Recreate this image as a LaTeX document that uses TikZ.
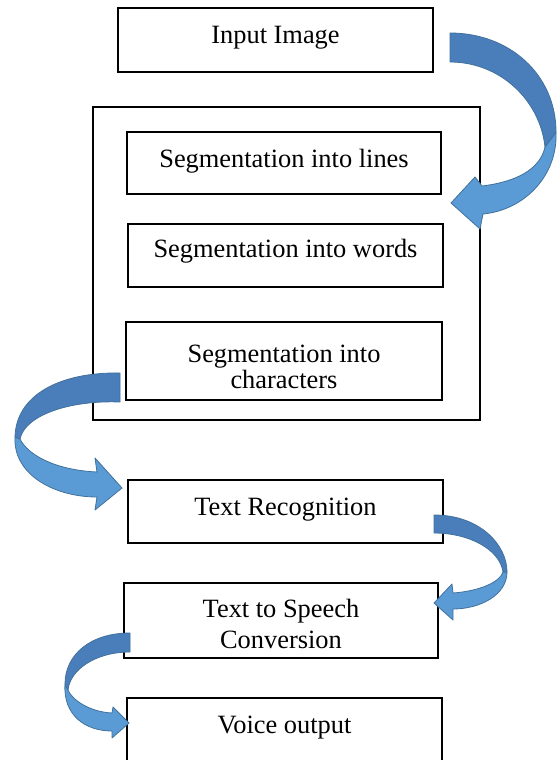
\documentclass[tikz,border=0pt]{standalone}
\usepackage{fontspec}
\setmainfont{Liberation Serif}
\definecolor{arrdark}{HTML}{4A7EBB}
\definecolor{arrlight}{HTML}{5B9BD5}
\definecolor{arredge}{HTML}{41719C}
\begin{document}
\begin{tikzpicture}[x=0.5pt,y=-0.5pt,
  box/.style={draw=black, line width=0.9pt, inner sep=0pt},
  lbl/.style={font=\fontsize{13.2}{15}\selectfont, inner sep=0pt, align=center},
  darkpart/.style={fill=arrdark, draw=arredge, line width=0.4pt, line join=round},
  lightpart/.style={fill=arrlight, draw=arredge, line width=0.4pt, line join=round}]
\clip (0,0) rectangle (559,760);
\fill[white] (0,0) rectangle (559,760);

% boxes
\node[box, minimum width=157.5pt, minimum height=32pt] (b1) at (275.5,40) {};
\node[box, line width=1.3pt, minimum width=193.5pt, minimum height=156.5pt] (outer) at (286.5,263.5) {};
\node[box, minimum width=157pt, minimum height=31pt] (b2) at (284,163) {};
\node[box, minimum width=157.5pt, minimum height=31.5pt] (b3) at (285.5,255.5) {};
\node[box, minimum width=158pt, minimum height=39pt] (b4) at (284,361) {};
\node[box, minimum width=157.5pt, minimum height=31.5pt] (b5) at (285.5,511.5) {};
\node[box, minimum width=157pt, minimum height=37.5pt] (b6) at (281,620.5) {};
\node[box, minimum width=157.5pt, minimum height=46pt] (b7) at (284.5,744) {};

% labels
\node[lbl, anchor=base] (t1) at (b1.center |- 0,43) {Input Image};
\node[lbl, anchor=base] (t2) at (b2.center |- 0,167) {Segmentation into lines};
\node[lbl, anchor=base] (t3) at (b3.center |- 0,257) {Segmentation into words};
\node[lbl, font=\fontsize{13.2}{13}\selectfont] (t4) at (b4.center |- 0,367) {Segmentation into\\characters};
\node[lbl, anchor=base] (t5) at (b5.center |- 0,515) {Text Recognition};
\node[lbl, font=\fontsize{13.2}{15.5}\selectfont] (t6) at (b6.center |- 0,623.5) {Text to Speech\\Conversion};
\node[lbl, anchor=base] (t7) at (b7.center |- 0,733) {Voice output};

% arrow 1: Input Image -> segmentation
\path[lightpart] (556,132) .. controls (558,175) and (525,210) .. (483,214) -- (480,229) -- (451,203) -- (475,177) -- (482,186)
  .. controls (515,182) and (540,170) .. (545,147) -- cycle;
\path[darkpart] (450,33) .. controls (510,33) and (556,75) .. (556,132) -- (545,147)
  .. controls (540,100) and (500,62) .. (450,62) -- cycle;

% arrow 2: characters -> Text Recognition
\path[lightpart] (15,437) .. controls (13,475) and (55,497) .. (97,497) -- (95,510) -- (122,488) -- (95,458) -- (97,472)
  .. controls (55,470) and (28,455) .. (20,439) -- cycle;
\path[darkpart] (120,373) .. controls (60,372) and (16,395) .. (15,437) -- (20,439)
  .. controls (25,415) and (70,400) .. (120,402) -- cycle;

% arrow 3: Text Recognition -> Text to Speech
\path[lightpart] (507,572) .. controls (507,595) and (480,609) .. (453,609) -- (453,620) -- (434,603) -- (452,584) -- (453,593)
  .. controls (480,591) and (500,582) .. (503,572) -- cycle;
\path[darkpart] (434,515) .. controls (480,515) and (507,545) .. (507,572) -- (503,572)
  .. controls (500,550) and (470,533) .. (434,533) -- cycle;

% arrow 4: Text to Speech -> Voice output
\path[lightpart] (65,684) .. controls (63,715) and (85,731) .. (112,731) -- (112,738) -- (129,723) -- (113,707) -- (112,713)
  .. controls (90,712) and (72,700) .. (68,690) -- cycle;
\path[darkpart] (130,633) .. controls (90,633) and (65,655) .. (65,684) -- (68,690)
  .. controls (70,670) and (95,652) .. (130,652) -- cycle;
\end{tikzpicture}
\end{document}
